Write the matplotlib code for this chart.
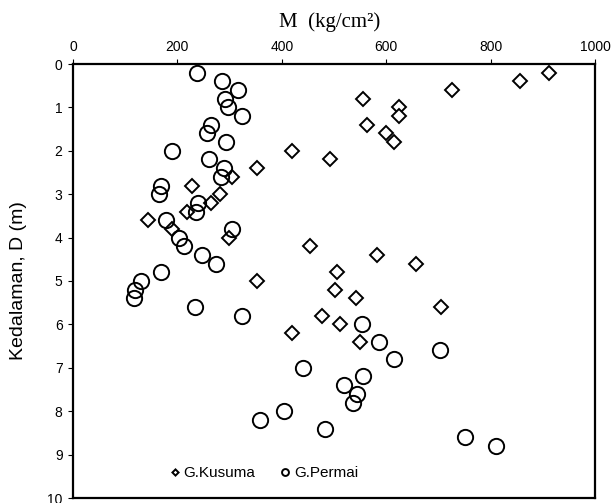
import numpy as np
import matplotlib
matplotlib.use("Agg")
import matplotlib.pyplot as plt

# G.Kusuma (diamonds): modulus M (kg/cm2) vs depth D (m)
kusuma_depth = [0.2, 0.4, 0.6, 0.8, 1.0, 1.2, 1.4, 1.6, 1.8, 2.0, 2.2, 2.4, 2.6, 2.8, 3.0, 3.2,
                3.4, 3.6, 3.8, 4.0, 4.2, 4.4, 4.6, 4.8, 5.0, 5.2, 5.4, 5.6, 5.8, 6.0, 6.2, 6.4]
kusuma_M = [912, 856, 726, 555, 624, 625, 564, 600, 614, 419, 492, 352, 304, 228, 282, 265,
            219, 144, 190, 299, 454, 582, 657, 505, 352, 501, 542, 705, 477, 512, 419, 550]

# G.Permai (circles)
permai_depth = [0.2, 0.4, 0.6, 0.8, 1.0, 1.2, 1.4, 1.6, 1.8, 2.0, 2.2, 2.4, 2.6, 2.8, 3.0,
                3.2, 3.4, 3.6, 3.8, 4.0, 4.2, 4.4, 4.6, 4.8, 5.0, 5.2, 5.4, 5.6, 5.8, 6.0,
                6.4, 6.6, 6.8, 7.0, 7.2, 7.4, 7.6, 7.8, 8.0, 8.2, 8.4, 8.6, 8.8]
permai_M = [237, 285, 317, 292, 296, 323, 264, 256, 294, 190, 260, 290, 283, 169, 165,
            240, 235, 178, 304, 203, 213, 247, 274, 169, 131, 118, 117, 234, 323, 554,
            587, 704, 615, 440, 556, 520, 545, 537, 405, 358, 483, 750, 810]

x_ticks = [0, 200, 400, 600, 800, 1000]
y_ticks = list(range(0, 11))

W, H = 611, 503
fig = plt.figure(figsize=(W / 100, H / 100), dpi=100)
# plot box in pixels: left 73, right 595, top 64, bottom 498
ax = fig.add_axes([73 / W, 1 - 498 / H, 522 / W, 434 / H])

ax.plot(kusuma_M, kusuma_depth, linestyle="none", marker="D", markersize=7,
        markerfacecolor="white", markeredgecolor="black", markeredgewidth=1.4, label="G.Kusuma")
ax.plot(permai_M, permai_depth, linestyle="none", marker="o", markersize=11,
        markerfacecolor="none", markeredgecolor="black", markeredgewidth=1.4, label="G.Permai")

ax.set_xlim(0, 1000)
ax.set_ylim(10, 0)
ax.set_xticks(x_ticks)
ax.set_yticks(y_ticks)
ax.xaxis.tick_top()
ax.tick_params(axis="both", direction="out", length=3.5, width=0.8, labelsize=10, pad=4)
for lab in ax.get_xticklabels() + ax.get_yticklabels():
    lab.set_family("Liberation Sans")
for sp in ax.spines.values():
    sp.set_linewidth(1.6)

# axis titles
fig.text(330 / W, 1 - 27 / H, "M  (kg/cm\u00b2)", family="Liberation Serif", fontsize=15,
         ha="center", va="baseline")
fig.text(19 / W, 1 - 281 / H, "Kedalaman, D (m)", family="Liberation Sans", fontsize=14,
         rotation=90, ha="center", va="center")

ax.legend(loc="center left", bbox_to_anchor=((170 - 73) / 522, (498 - 473) / 434), ncol=2,
          frameon=False, markerscale=0.45, handlelength=0.7, handletextpad=0.2,
          columnspacing=1.6, borderpad=0, borderaxespad=0,
          prop={"family": "Liberation Sans", "size": 11})

fig.savefig("out.png", dpi=100)
